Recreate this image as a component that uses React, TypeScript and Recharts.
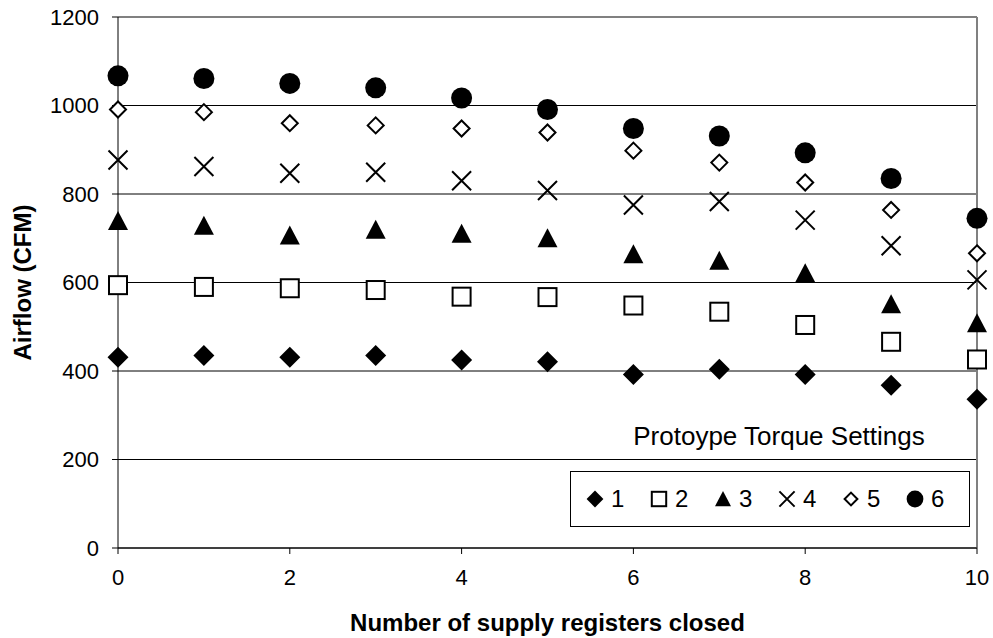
import {
  CartesianGrid,
  Legend,
  ReferenceLine,
  Scatter,
  ScatterChart,
  XAxis,
  YAxis
} from "recharts";

// number of supply registers closed (x) and airflow in CFM per torque setting
const registersClosed = [0, 1, 2, 3, 4, 5, 6, 7, 8, 9, 10];
const setting1 = [431, 435, 431, 435, 425, 421, 392, 404, 392, 368, 336];
const setting2 = [594, 590, 587, 583, 568, 567, 548, 534, 504, 466, 426];
const setting3 = [739, 728, 706, 719, 710, 700, 664, 649, 621, 551, 508];
const setting4 = [877, 862, 847, 849, 830, 808, 775, 783, 741, 683, 606];
const setting5 = [991, 985, 960, 955, 948, 939, 898, 871, 826, 764, 666];
const setting6 = [1067, 1061, 1050, 1040, 1017, 991, 948, 931, 893, 835, 745];

const settingNames = ["1", "2", "3", "4", "5", "6"];
const xTicks = [0, 2, 4, 6, 8, 10];
const yTicks = [0, 200, 400, 600, 800, 1000, 1200];

type MarkerKind = "diamond" | "square" | "triangle" | "x" | "openDiamond" | "circle";

const series: { name: string; values: number[]; kind: MarkerKind }[] = [
  { name: settingNames[0], values: setting1, kind: "diamond" },
  { name: settingNames[1], values: setting2, kind: "square" },
  { name: settingNames[2], values: setting3, kind: "triangle" },
  { name: settingNames[3], values: setting4, kind: "x" },
  { name: settingNames[4], values: setting5, kind: "openDiamond" },
  { name: settingNames[5], values: setting6, kind: "circle" }
];

const FONT = '"Liberation Sans", Arial, sans-serif';

function Marker({ kind, cx, cy, s = 1 }: { kind: MarkerKind; cx: number; cy: number; s?: number }) {
  if (cx == null || cy == null) return null;
  switch (kind) {
    case "diamond": {
      const r = 10.5 * s;
      return <path d={`M${cx},${cy - r}L${cx + r},${cy}L${cx},${cy + r}L${cx - r},${cy}Z`} fill="#000" />;
    }
    case "square": {
      const h = 9 * s;
      return <rect x={cx - h} y={cy - h} width={2 * h} height={2 * h} fill="#fff" stroke="#000" strokeWidth={2} />;
    }
    case "triangle": {
      const w = 10 * s;
      return (
        <path
          d={`M${cx},${cy - 10 * s}L${cx + w},${cy + 9 * s}L${cx - w},${cy + 9 * s}Z`}
          fill="#000"
        />
      );
    }
    case "x": {
      const h = 9.5 * s;
      return (
        <path
          d={`M${cx - h},${cy - h}L${cx + h},${cy + h}M${cx - h},${cy + h}L${cx + h},${cy - h}`}
          stroke="#000"
          strokeWidth={2}
          fill="none"
        />
      );
    }
    case "openDiamond": {
      const r = 8 * s;
      return (
        <path
          d={`M${cx},${cy - r}L${cx + r},${cy}L${cx},${cy + r}L${cx - r},${cy}Z`}
          fill="#fff"
          stroke="#000"
          strokeWidth={2}
        />
      );
    }
    case "circle":
      return <circle cx={cx} cy={cy} r={10.5 * s} fill="#000" />;
  }
  return null;
}

function TorqueLegend() {
  return (
    <div style={{ width: 400, fontFamily: FONT, color: "#000" }}>
      <div
        style={{
          textAlign: "center",
          fontSize: 26,
          lineHeight: "28px",
          marginBottom: 21,
          paddingLeft: 18,
          whiteSpace: "nowrap"
        }}
      >
        Protoype Torque Settings
      </div>
      <div
        style={{
          boxSizing: "border-box",
          height: 56,
          border: "1px solid #000",
          background: "#fff",
          display: "flex",
          alignItems: "center",
          paddingLeft: 14
        }}
      >
        {series.map((s) => (
          <div key={s.name} style={{ width: 66, display: "flex", alignItems: "center", fontSize: 24 }}>
            <svg width={20} height={20} style={{ marginRight: 6 }}>
              <Marker kind={s.kind} cx={10} cy={10} s={0.8} />
            </svg>
            <span>{s.name}</span>
          </div>
        ))}
      </div>
    </div>
  );
}

export default function App() {
  const tickStyle = { fontSize: 22, fill: "#000", fontFamily: FONT };
  return (
    <div style={{ position: "absolute", left: 0, top: 0, background: "#fff" }}>
      <ScatterChart width={993} height={638} margin={{ top: 17, right: 16, bottom: 0, left: 0 }}>
        <CartesianGrid horizontal vertical={false} stroke="#000" strokeWidth={1} />
        <XAxis
          type="number"
          dataKey="x"
          domain={[0, 10]}
          ticks={xTicks}
          height={90}
          stroke="#000"
          tickSize={6}
          tickMargin={15}
          tick={tickStyle}
          label={{
            content: ({ viewBox }: any) => (
              <text
                x={viewBox.x + viewBox.width / 2}
                y={viewBox.y + 83}
                textAnchor="middle"
                fontFamily={FONT}
                fontWeight="bold"
                fontSize={24}
                fill="#000"
              >
                Number of supply registers closed
              </text>
            )
          }}
        />
        <YAxis
          type="number"
          dataKey="y"
          domain={[0, 1200]}
          ticks={yTicks}
          width={118}
          stroke="#000"
          tickSize={6}
          tickMargin={13}
          tick={tickStyle}
          label={{
            content: ({ viewBox }: any) => (
              <text
                x={31}
                y={viewBox.y + viewBox.height / 2}
                textAnchor="middle"
                transform={`rotate(-90, 31, ${viewBox.y + viewBox.height / 2})`}
                fontFamily={FONT}
                fontWeight="bold"
                fontSize={24}
                fill="#000"
              >
                Airflow (CFM)
              </text>
            )
          }}
        />
        <ReferenceLine y={1200} stroke="#808080" strokeWidth={2} />
        <ReferenceLine x={10} stroke="#808080" strokeWidth={2} />
        {series.map((s) => (
          <Scatter
            key={s.name}
            name={s.name}
            data={registersClosed.map((x, i) => ({ x, y: s.values[i] }))}
            isAnimationActive={false}
            shape={(p: any) => <Marker kind={s.kind} cx={p.cx} cy={p.cy} />}
          />
        ))}
        <Legend
          layout="vertical"
          align="center"
          verticalAlign="middle"
          content={() => <TorqueLegend />}
          wrapperStyle={{ left: 570, top: 422, width: 400, height: 105 }}
        />
      </ScatterChart>
    </div>
  );
}
